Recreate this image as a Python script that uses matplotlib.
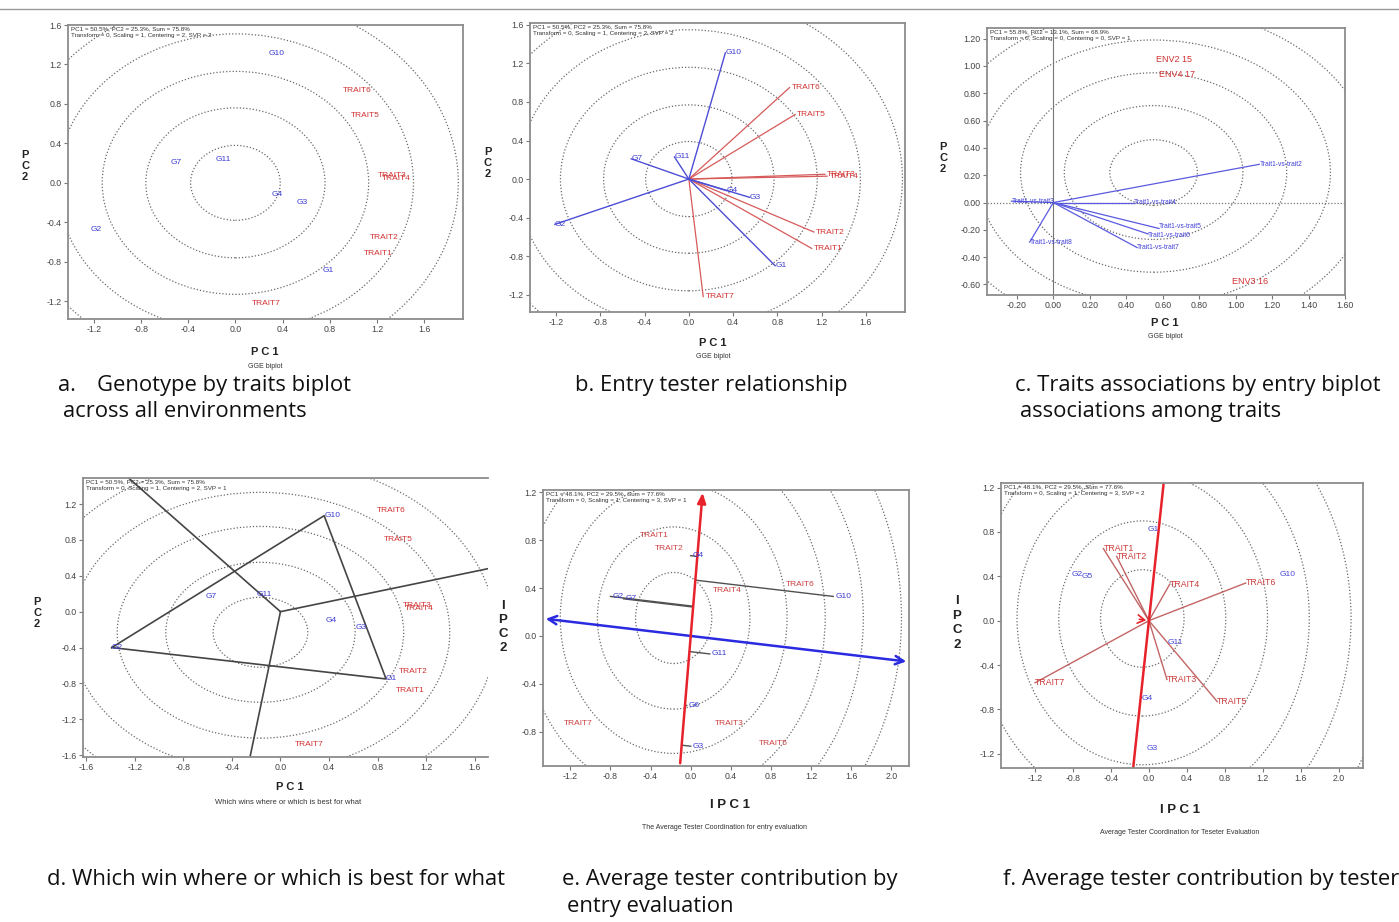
import numpy as np
import matplotlib
matplotlib.use("Agg")
import matplotlib.pyplot as plt
from matplotlib.patches import Circle
from matplotlib.lines import Line2D

plt.rcParams['axes.unicode_minus'] = False
plt.rcParams['font.family'] = ['Liberation Sans', 'DejaVu Sans']

# ======================= DATA =======================
# (a) Genotype by traits biplot
a_gen_labels = ["G10", "G7", "G11", "G4", "G3", "G2", "G1"]
a_gen_x = [0.35, -0.50, -0.10, 0.35, 0.57, -1.18, 0.79]
a_gen_y = [1.31, 0.21, 0.24, -0.12, -0.20, -0.47, -0.89]
a_trait_labels = ["TRAIT6", "TRAIT5", "TRAIT3", "TRAIT4", "TRAIT2", "TRAIT1", "TRAIT7"]
a_trait_x = [1.03, 1.10, 1.33, 1.36, 1.26, 1.21, 0.26]
a_trait_y = [0.94, 0.68, 0.07, 0.04, -0.55, -0.72, -1.22]
a_ring_center = (0.0, 0.0)
a_ring_radii = [0.38, 0.76, 1.13, 1.51, 1.89]
a_header = ["PC1 = 50.5%, PC2 = 25.3%, Sum = 75.8%",
            "Transform = 0, Scaling = 1, Centering = 2, SVP = 2"]
a_xticks = [-1.2, -0.8, -0.4, 0.0, 0.4, 0.8, 1.2, 1.6]
a_yticks = [-1.2, -0.8, -0.4, 0.0, 0.4, 0.8, 1.2, 1.6]

# (b) Entry tester relationship
b_gen_labels = ["G10", "G7", "G11", "G4", "G3", "G2", "G1"]
b_gen_x = [0.33, -0.52, -0.13, 0.34, 0.55, -1.21, 0.78]
b_gen_y = [1.31, 0.21, 0.23, -0.12, -0.19, -0.47, -0.90]
b_trait_labels = ["TRAIT6", "TRAIT5", "TRAIT3", "TRAIT4", "TRAIT2", "TRAIT1", "TRAIT7"]
b_trait_x = [0.91, 0.96, 1.23, 1.25, 1.13, 1.11, 0.13]
b_trait_y = [0.95, 0.67, 0.05, 0.03, -0.55, -0.72, -1.22]
b_ring_center = (0.0, 0.0)
b_ring_radii = [0.39, 0.77, 1.16, 1.55, 1.93]
b_header = ["PC1 = 50.5%, PC2 = 25.3%, Sum = 75.8%",
            "Transform = 0, Scaling = 1, Centering = 2, SVP = 2"]
b_xticks = [-1.2, -0.8, -0.4, 0.0, 0.4, 0.8, 1.2, 1.6]
b_yticks = [-1.2, -0.8, -0.4, 0.0, 0.4, 0.8, 1.2, 1.6]

# (c) Traits associations by entry biplot
c_vec_labels = ["Trait1-vs-trait2", "Trait1-vs-trait3", "Trait1-vs-trait4",
                "Trait1-vs-trait5", "Trait1-vs-trait6", "Trait1-vs-trait7",
                "Trait1-vs-trait8"]
c_vec_x = [1.13, -0.23, 0.44, 0.58, 0.52, 0.46, -0.13]
c_vec_y = [0.28, 0.01, 0.00, -0.19, -0.23, -0.33, -0.29]
c_env_labels = ["ENV2 15", "ENV4 17", "ENV3 16"]
c_env_x = [0.66, 0.68, 1.08]
c_env_y = [1.05, 0.94, -0.58]
c_ring_center = (0.55, 0.22)
c_ring_radii = [0.24, 0.49, 0.73, 0.97, 1.21]
c_header = ["PC1 = 55.8%, PC2 = 13.1%, Sum = 68.9%",
            "Transform = 0, Scaling = 0, Centering = 0, SVP = 1"]
c_xticks = [-0.2, 0.0, 0.2, 0.4, 0.6, 0.8, 1.0, 1.2, 1.4, 1.6]
c_yticks = [-0.6, -0.4, -0.2, 0.0, 0.2, 0.4, 0.6, 0.8, 1.0, 1.2]

# (d) Which won where
d_gen_labels = ["G10", "G7", "G11", "G4", "G3", "G2", "G1"]
d_gen_x = [0.36, -0.62, -0.20, 0.37, 0.62, -1.39, 0.87]
d_gen_y = [1.07, 0.17, 0.19, -0.10, -0.18, -0.40, -0.75]
d_hull = ["G2", "G10", "G1"]
d_trait_labels = ["TRAIT6", "TRAIT5", "TRAIT3", "TRAIT4", "TRAIT2", "TRAIT1", "TRAIT7"]
d_trait_x = [0.91, 0.97, 1.13, 1.14, 1.09, 1.07, 0.24]
d_trait_y = [1.13, 0.81, 0.07, 0.04, -0.67, -0.88, -1.48]
d_ring_center = (-0.165, -0.23)
d_ring_radii = [0.39, 0.78, 1.18, 1.56, 1.94]
d_header = ["PC1 = 50.5%, PC2 = 25.3%, Sum = 75.8%",
            "Transform = 0, Scaling = 1, Centering = 2, SVP = 1"]
d_xticks = [-1.6, -1.2, -0.8, -0.4, 0.0, 0.4, 0.8, 1.2, 1.6]
d_yticks = [-1.6, -1.2, -0.8, -0.4, 0.0, 0.4, 0.8, 1.2]

# (e) Average tester coordination, entry evaluation
e_gen_labels = ["G10", "G2", "G7", "G4", "G11", "G6", "G3"]
e_gen_x = [1.42, -0.80, -0.67, 0.00, 0.19, -0.04, 0.00]
e_gen_y = [0.33, 0.33, 0.31, 0.67, -0.15, -0.58, -0.92]
e_trait_labels = ["TRAIT1", "TRAIT2", "TRAIT4", "TRAIT6", "TRAIT3", "TRAIT5", "TRAIT7"]
e_trait_x = [-0.36, -0.21, 0.36, 1.09, 0.38, 0.82, -1.12]
e_trait_y = [0.84, 0.73, 0.38, 0.43, -0.73, -0.90, -0.73]
e_atc_dir = (0.099, 1.0)
e_ring_center = (-0.17, 0.15)
e_ring_radii = [0.38, 0.76, 1.13, 1.51, 1.89, 2.27]
e_header = ["PC1 = 48.1%, PC2 = 29.5%, Sum = 77.6%",
            "Transform = 0, Scaling = 1, Centering = 3, SVP = 1"]
e_xticks = [-1.2, -0.8, -0.4, 0.0, 0.4, 0.8, 1.2, 1.6, 2.0]
e_yticks = [-0.8, -0.4, 0.0, 0.4, 0.8, 1.2]

# (f) Average tester coordination, tester evaluation
f_trait_labels = ["TRAIT1", "TRAIT2", "TRAIT4", "TRAIT6", "TRAIT7", "TRAIT3", "TRAIT5"]
f_trait_x = [-0.48, -0.34, 0.22, 1.02, -1.20, 0.19, 0.72]
f_trait_y = [0.65, 0.58, 0.33, 0.34, -0.56, -0.53, -0.73]
f_gen_labels = ["G1", "G2", "G5", "G10", "G11", "G4", "G3"]
f_gen_x = [0.05, -0.76, -0.65, 1.46, 0.28, -0.02, 0.03]
f_gen_y = [0.82, 0.42, 0.40, 0.42, -0.20, -0.70, -1.15]
f_atc_dir = (0.125, 1.0)
f_ring_center = (-0.07, 0.02)
f_ring_radii = [0.44, 0.88, 1.32, 1.76, 2.20, 2.64]
f_header = ["PC1 = 48.1%, PC2 = 29.5%, Sum = 77.6%",
            "Transform = 0, Scaling = 1, Centering = 3, SVP = 2"]
f_xticks = [-1.2, -0.8, -0.4, 0.0, 0.4, 0.8, 1.2, 1.6, 2.0]
f_yticks = [-1.2, -0.8, -0.4, 0.0, 0.4, 0.8, 1.2]

captions = [
    (58, 391, "a."), (97, 391, "Genotype by traits biplot"),
    (63, 417, "across all environments"),
    (575, 391, "b. Entry tester relationship"),
    (1015, 391, "c. Traits associations by entry biplot"),
    (1020, 417, "associations among traits"),
    (47, 885, "d. Which win where or which is best for what"),
    (562, 885, "e. Average tester contribution by"),
    (567, 912, "entry evaluation"),
    (1003, 885, "f. Average tester contribution by tester"),
]

# ======================= STYLE / HELPERS =======================
W, H = 1399, 922
fig = plt.figure(figsize=(W / 100, H / 100), dpi=100)
BLUE = '#3c3cd2'
RED = '#d23232'
RING = '#6a6a6a'


def px(x, y):
    return x / W, 1 - y / H


def make_ax(box, xlim, ylim, xticks, yticks, fmt='%.1f', right=True):
    l, t, r, b = box
    ax = fig.add_axes([l / W, 1 - b / H, (r - l) / W, (b - t) / H])
    ax.set_xlim(xlim)
    ax.set_ylim(ylim)
    ax.set_xticks(xticks)
    ax.set_yticks(yticks)
    ax.set_xticklabels([fmt % v for v in xticks])
    ax.set_yticklabels([fmt % v for v in yticks])
    ax.tick_params(direction='out', length=3, width=0.8, colors='#777',
                   labelsize=6.3, pad=1.5, labelcolor='#444')
    for s in ax.spines.values():
        s.set_color('#8c8c8c')
        s.set_linewidth(1.3)
    if not right:
        ax.spines['right'].set_visible(False)
    return ax


def rings(ax, center, radii):
    for r in radii:
        ax.add_patch(Circle(center, r, fill=False, ls=(0, (1, 1.6)),
                            lw=0.9, ec=RING))


def header(ax, lines):
    ax.text(0.008, 0.995, "\n".join(lines), transform=ax.transAxes,
            fontsize=4.5, va='top', ha='left', color='#333', linespacing=1.35)


def labels(ax, xs, ys, names, color, ha='center', dx=0.0, fs=6, dys=None):
    dys = dys or [0.0] * len(names)
    for x, y, n, dy in zip(xs, ys, names, dys):
        ax.text(x + dx, y + dy, n, color=color, fontsize=fs, ha=ha, va='center',
                clip_on=True)


def axis_texts(xlab_pos, xlab, sub_pos, sub, sub_fs, ylab_pos, ylab, fs=8,
               ls=1.1):
    fig.text(*px(*xlab_pos), xlab, ha='center', va='center', fontsize=fs,
             fontweight='bold', color='#222')
    fig.text(*px(*sub_pos), sub, ha='center', va='center', fontsize=sub_fs,
             color='#333')
    fig.text(*px(*ylab_pos), ylab, ha='center', va='center', fontsize=fs,
             fontweight='bold', color='#222', linespacing=ls)


# ======================= (a) =======================
ax = make_ax((68, 25, 463, 319), (-1.42, 1.93), (-1.38, 1.6), a_xticks, a_yticks)
rings(ax, a_ring_center, a_ring_radii)
header(ax, a_header)
labels(ax, a_gen_x, a_gen_y, a_gen_labels, BLUE)
labels(ax, a_trait_x, a_trait_y, a_trait_labels, RED)
axis_texts((265, 352), "P C 1", (265, 366), "GGE biplot", 5, (25, 166), "P\nC\n2")

# ======================= (b) =======================
ax = make_ax((530, 23, 905, 312), (-1.435, 1.953), (-1.38, 1.62), b_xticks, b_yticks)
rings(ax, b_ring_center, b_ring_radii)
header(ax, b_header)
for x, y in zip(b_trait_x, b_trait_y):
    ax.plot([0, x], [0, y], color='#d65a5a', lw=0.9)
for x, y in zip(b_gen_x, b_gen_y):
    ax.plot([0, x], [0, y], color='#4d4dd6', lw=1.0)
labels(ax, b_gen_x, b_gen_y, b_gen_labels, BLUE, ha='left', dx=0.0)
labels(ax, b_trait_x, b_trait_y, b_trait_labels, RED, ha='left', dx=0.02)
axis_texts((713, 343), "P C 1", (713, 357), "GGE biplot", 5, (488, 163), "P\nC\n2")

# ======================= (c) =======================
ax = make_ax((987, 28, 1345, 295), (-0.364, 1.59), (-0.677, 1.278), c_xticks,
             c_yticks, fmt='%.2f')
rings(ax, c_ring_center, c_ring_radii)
ax.axvline(0, color='#777', lw=0.8)
ax.axhline(0, color='#777', lw=0.9, ls=(0, (1, 1.5)))
header(ax, c_header)
for x, y in zip(c_vec_x, c_vec_y):
    ax.plot([0, x], [0, y], color='#5a5ae0', lw=0.9)
labels(ax, c_vec_x, c_vec_y, c_vec_labels, '#4040d8', ha='left', fs=4.8,
       dys=[0, 0, 0, 0.012, -0.012, 0, 0])
labels(ax, c_env_x, c_env_y, c_env_labels, RED, fs=6.5)
axis_texts((1165, 323), "P C 1", (1165, 336), "GGE biplot", 5, (943, 158), "P\nC\n2")

# ======================= (d) =======================
ax = make_ax((83, 478, 488, 757), (-1.627, 1.71), (-1.62, 1.49), d_xticks,
             d_yticks, right=False)
rings(ax, d_ring_center, d_ring_radii)
header(ax, d_header)
idx = [d_gen_labels.index(n) for n in d_hull]
hx = [d_gen_x[i] for i in idx] + [d_gen_x[idx[0]]]
hy = [d_gen_y[i] for i in idx] + [d_gen_y[idx[0]]]
ax.plot(hx, hy, color='#454545', lw=1.2)
for k in range(len(idx)):
    x1, y1, x2, y2 = hx[k], hy[k], hx[k + 1], hy[k + 1]
    nx, ny = (y2 - y1), -(x2 - x1)
    if nx * (x1 + x2) + ny * (y1 + y2) < 0:
        nx, ny = -nx, -ny
    nrm = np.hypot(nx, ny)
    ax.plot([0, 6 * nx / nrm], [0, 6 * ny / nrm], color='#454545', lw=1.2)
labels(ax, d_gen_x, d_gen_y, d_gen_labels, BLUE, ha='left')
labels(ax, d_trait_x, d_trait_y, d_trait_labels, RED)
axis_texts((290, 787), "P C 1", (288, 802), "Which wins where or which is best for what",
           5.5, (37, 613), "P\nC\n2")

# ======================= (e) =======================
exl, eyl = (-1.472, 2.175), (-1.085, 1.218)
ax = make_ax((543, 490, 909, 766), exl, eyl, e_xticks, e_yticks)
rings(ax, e_ring_center, e_ring_radii)
header(ax, e_header)
dx_, dy_ = e_atc_dir
nrm = np.hypot(dx_, dy_)
ux, uy = dx_ / nrm, dy_ / nrm
for x, y in zip(e_gen_x, e_gen_y):
    t = x * ux + y * uy
    ax.plot([x, t * ux], [y, t * uy], color='#505050', lw=1.0)
# blue abscissa (perpendicular to ATC axis)
slope = -dx_ / dy_
ax.annotate('', xy=(exl[1], slope * exl[1]), xytext=(exl[0], slope * exl[0]),
            arrowprops=dict(arrowstyle='<->,head_length=0.6,head_width=0.3',
                            color='#2a2ae0', lw=1.8), annotation_clip=False)
ax.annotate('', xy=(eyl[1] * dx_ / dy_, eyl[1]), xytext=(eyl[0] * dx_ / dy_, eyl[0]),
            arrowprops=dict(arrowstyle='-|>,head_length=0.6,head_width=0.25',
                            color='#e8222a', lw=1.8), annotation_clip=False)
labels(ax, e_gen_x, e_gen_y, e_gen_labels, BLUE, ha='left', dx=0.02)
labels(ax, e_trait_x, e_trait_y, e_trait_labels, '#cc4040')
axis_texts((730, 805), "I P C 1", (725, 827),
           "The Average Tester Coordination for entry evaluation", 5,
           (503, 627), "I\nP\nC\n2", fs=9.5, ls=1.25)

# ======================= (f) =======================
fxl, fyl = (-1.559, 2.256), (-1.329, 1.242)
ax = make_ax((1001, 483, 1363, 768), fxl, fyl, f_xticks, f_yticks)
rings(ax, f_ring_center, f_ring_radii)
header(ax, f_header)
for x, y in zip(f_trait_x, f_trait_y):
    ax.plot([0, x], [0, y], color='#b84a4a', lw=1.0, alpha=0.85)
fdx, fdy = f_atc_dir
ax.plot([fyl[0] * fdx / fdy, fyl[1] * fdx / fdy], [fyl[0], fyl[1]],
        color='#e8222a', lw=1.8)
ax.annotate('', xy=(0, 0), xytext=(-0.13 * fdy, 0.13 * fdx),
            arrowprops=dict(arrowstyle='->,head_length=0.5,head_width=0.3',
                            color='#e8222a', lw=1.2))
labels(ax, f_trait_x, f_trait_y, f_trait_labels, '#cc3a3a', ha='left', dx=0.0, fs=6.3)
labels(ax, f_gen_x, f_gen_y, f_gen_labels, '#4646d8')
axis_texts((1180, 810), "I P C 1", (1180, 832),
           "Average Tester Coordination for Teseter Evaluation", 5,
           (957, 623), "I\nP\nC\n2", fs=9.5, ls=1.3)

# ======================= captions & frame line =======================
for x, y, s in captions:
    fig.text(*px(x, y), s, ha='left', va='baseline', fontsize=15.8,
             family=['Open Sans', 'DejaVu Sans'], color='#111')
fig.add_artist(Line2D([0, 1], [1 - 9 / H, 1 - 9 / H], color='#9a9a9a', lw=1.0))

fig.savefig('out.png', dpi=100)
